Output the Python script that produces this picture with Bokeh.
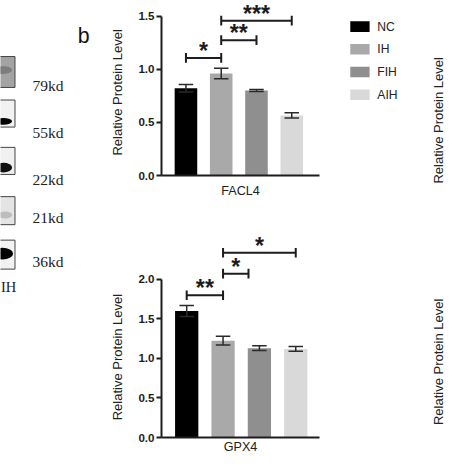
import numpy as np
from bokeh.plotting import figure
from bokeh.models import Range1d, FixedTicker, PrintfTickFormatter
from bokeh.layouts import row, column
from bokeh.embed import file_html
from bokeh.resources import INLINE
from bokeh.core.properties import value

# ---------------- data ----------------
categories = ["NC", "IH", "FIH", "AIH"]
bar_colors = ["#000000", "#a9a9a9", "#8f8f8f", "#d9d9d9"]

facl4_mean = [0.82, 0.96, 0.80, 0.565]
facl4_err = [0.035, 0.05, 0.01, 0.025]
facl4_ticks = [0.0, 0.5, 1.0, 1.5]
facl4_br_start = [1, 2, 2]
facl4_br_end = [2, 3, 4]
facl4_br_y = [1.106, 1.273, 1.457]
facl4_br_label = ["*", "**", "***"]

gpx4_mean = [1.60, 1.225, 1.13, 1.12]
gpx4_err = [0.07, 0.055, 0.03, 0.03]
gpx4_ticks = [0.0, 0.5, 1.0, 1.5, 2.0]
gpx4_br_start = [1, 2, 2]
gpx4_br_end = [2, 2.7, 4]
gpx4_br_y = [1.80, 2.073, 2.338]
gpx4_br_label = ["**", "*", "*"]

blot_markers = ["79kd", "55kd", "22kd", "21kd", "36kd"]
y_title = "Relative Protein Level"

# ---------------- layout (reference pixel geometry) ----------------
S = 458 / 474.0
TOTAL = 458
LEFT_W, CHART_W, RIGHT_W = 126, 198, 134
TOP_H, BOT_H = 217, 241
chart_x0 = LEFT_W / S          # ref x where chart column starts
FONT = "Liberation Sans"
DARK = "#1c1c1c"


def px(v):
    return f"{v * S:.1f}px"


def make_chart(mean, err, ticks, br_s, br_e, br_y, br_lab, gene,
               fig_h, fig_ref_y0, frame_l, frame_r, frame_t, frame_b,
               unit_px, first_center, spacing, label_standoff):
    xs = np.arange(1, len(categories) + 1)
    x_start = 1 - (first_center - frame_l) / spacing
    x_end = 1 + (frame_r - first_center) / spacing
    y_end = (frame_b - frame_t) / unit_px
    p = figure(width=CHART_W, height=fig_h,
               x_range=Range1d(x_start, x_end), y_range=Range1d(0, y_end),
               toolbar_location=None, output_backend="svg")
    p.min_border_left = round(frame_l * S - LEFT_W)
    p.min_border_right = CHART_W - round(frame_r * S - LEFT_W)
    p.min_border_top = round((frame_t - fig_ref_y0) * S)
    p.min_border_bottom = fig_h - round((frame_b - fig_ref_y0) * S)
    p.outline_line_color = None
    p.xgrid.visible = False
    p.ygrid.visible = False

    mean = np.array(mean)
    err = np.array(err)
    p.vbar(x=xs, top=mean, width=24 / spacing, fill_color=bar_colors, line_color=None)
    p.segment(x0=xs, y0=mean - err, x1=xs, y1=mean + err, line_color="#2a2a2a", line_width=1.5)
    p.scatter(x=np.concatenate([xs, xs]), y=np.concatenate([mean - err, mean + err]),
              marker="dash", size=15 * S, line_color="#2a2a2a", line_width=1.5)

    br_s = np.array(br_s, dtype=float)
    br_e = np.array(br_e, dtype=float)
    br_y = np.array(br_y)
    p.segment(x0=br_s, y0=br_y, x1=br_e, y1=br_y, line_color=DARK, line_width=2)
    p.scatter(x=np.concatenate([br_s, br_e]), y=np.concatenate([br_y, br_y]),
              marker="dash", angle=np.pi / 2, size=10 * S, line_color=DARK, line_width=2)
    p.text(x=(br_s + br_e) / 2, y=br_y, text=br_lab, text_font=value(FONT),
           text_font_style="bold", text_font_size=px(24), text_align="center",
           text_baseline="alphabetic", y_offset=-7 * S, text_color=DARK)

    ya = p.yaxis[0]
    ya.ticker = FixedTicker(ticks=ticks)
    ya.bounds = (0, ticks[-1])
    ya.formatter = PrintfTickFormatter(format="%.1f")
    ya.major_tick_out = round(5 * S)
    ya.major_tick_in = 0
    ya.minor_tick_out = 0
    ya.minor_tick_in = 0
    ya.axis_line_width = 2
    ya.axis_line_color = DARK
    ya.major_tick_line_width = 2
    ya.major_tick_line_color = DARK
    ya.major_label_text_font = FONT
    ya.major_label_text_font_style = "bold"
    ya.major_label_text_font_size = px(12)
    ya.major_label_text_color = DARK
    ya.major_label_standoff = 2

    xa = p.xaxis[0]
    xa.ticker = FixedTicker(ticks=[])
    xa.axis_line_width = 2
    xa.axis_line_color = DARK
    xa.major_tick_out = 0
    xa.major_tick_in = 0
    xa.minor_tick_out = 0
    xa.axis_label = gene
    xa.axis_label_text_font = FONT
    xa.axis_label_text_font_style = "normal"
    xa.axis_label_text_font_size = px(13)
    xa.axis_label_text_color = "#222222"
    xa.axis_label_standoff = round(label_standoff * S)
    return p


top = make_chart(facl4_mean, facl4_err, facl4_ticks, facl4_br_start, facl4_br_end,
                 facl4_br_y, facl4_br_label, "FACL4",
                 TOP_H, 0, 162, 330, 3, 181, 110, 188, 37.5, 8)
bot = make_chart(gpx4_mean, gpx4_err, gpx4_ticks, gpx4_br_start, gpx4_br_end,
                 gpx4_br_y, gpx4_br_label, "GPX4",
                 BOT_H, TOP_H / S, 167, 330, 240, 452.7, 82, 193, 37.5, 2)


def canvas(w, x0):
    p = figure(width=w, height=TOTAL, x_range=Range1d(x0, x0 + w / S),
               y_range=Range1d(TOTAL / S, 0), x_axis_type=None, y_axis_type=None,
               toolbar_location=None, output_backend="svg", min_border=0)
    p.outline_line_color = None
    return p


# ---------------- left: blot strip, markers, panel letter, y titles ----------------
left = canvas(LEFT_W, 0)
box_top = [58, 103, 152, 203, 248]
box_bot = [90, 131, 180, 232, 278]
box_fill = ["#a3a3a3", "#f2f2f2", "#f0f0f0", "#e4e4e4", "#f2f2f2"]
band_y = [72, 125, 173, 222, 262]
band_w = [18, 18, 18, 14, 22]
band_h = [8, 7, 10, 7, 12]
band_col = ["#7d7d7d", "#050505", "#101010", "#bdbdbd", "#000000"]
left.quad(left=[-12] * 5, right=[15] * 5, top=box_top, bottom=box_bot,
          fill_color=box_fill, line_color="#444444", line_width=1)
left.ellipse(x=[3, 3, 3, 5, 2], y=band_y, width=band_w, height=band_h,
             fill_color=band_col, line_color=None)
kd_y = [88, 137, 185, 225, 270]
left.text(x=[33] * 5, y=kd_y, text=blot_markers, text_font=value("Liberation Serif"),
          text_font_size=px(16), text_baseline="middle", text_align="left", text_color="#222222")
left.text(x=[0.5], y=[297], text=["IH"], text_font=value("Liberation Serif"),
          text_font_size=px(15), text_baseline="middle", text_align="left", text_color="#222222")
left.text(x=[86], y=[37], text=["b"], text_font=value(FONT), text_font_size=px(22),
          text_baseline="middle", text_align="center", text_color="#111111")
left.text(x=[121.5, 121.5], y=[95, 369], text=[y_title, y_title], angle=np.pi / 2,
          text_font=value(FONT), text_font_size=px(13.5), text_align="center",
          text_baseline="middle", text_color="#222222")

# ---------------- right: legend + next panel fragments ----------------
right = canvas(RIGHT_W, chart_x0 + CHART_W / S)
leg_y = [27 + 23.5 * i for i in range(len(categories))]
right.rect(x=[372] * len(categories), y=leg_y, width=20, height=11,
           fill_color=bar_colors, line_color=None)
right.text(x=[390] * len(categories), y=leg_y, text=categories, text_font=value(FONT),
           text_font_size=px(12.5), text_baseline="middle", text_align="left",
           text_color="#222222")
right.text(x=[453.5, 453.5], y=[124, 374], text=[y_title, y_title], angle=np.pi / 2,
           text_font=value(FONT), text_font_size=px(13.5), text_align="center",
           text_baseline="middle", text_color="#222222")

layout = row(left, column(top, bot), right)
open("out.html", "w").write(file_html(layout, INLINE))
